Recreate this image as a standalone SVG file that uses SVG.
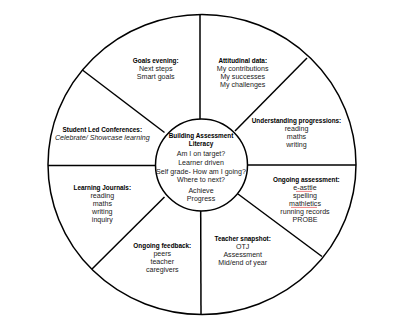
<svg xmlns="http://www.w3.org/2000/svg" width="400" height="325" viewBox="0 0 400 325">
<style>
text{font-family:"Liberation Sans",Arial,sans-serif;font-size:7.1px;fill:#222;text-anchor:middle}
.h{font-weight:bold;font-size:6.4px;fill:#000}
.i{font-style:italic}
.ln{stroke:#000;stroke-width:1.5;fill:none;stroke-linecap:butt}
.sq{stroke:#e03030;stroke-width:0.6;fill:none}
</style>
<rect width="400" height="325" fill="#fff"/>
<g id="wheel">
<ellipse cx="202" cy="164.5" rx="154" ry="150" class="ln"/>
</g>
<g id="connectors">
<line x1="200" y1="14.5" x2="200" y2="119" class="ln"/>
<line x1="200.7" y1="211" x2="201" y2="314.5" class="ln"/>
<line x1="48" y1="165.5" x2="155" y2="165.5" class="ln"/>
<line x1="248" y1="165" x2="356" y2="165" class="ln"/>
<line x1="82.4" y1="70" x2="164.5" y2="132.5" class="ln"/>
<line x1="235" y1="131" x2="307" y2="58" class="ln"/>
<line x1="164.5" y1="197" x2="92" y2="269" class="ln"/>
<line x1="238" y1="194" x2="322" y2="256.5" class="ln"/>
</g>
<g id="center">
<circle cx="201.5" cy="165" r="46" class="ln" fill="#fff"/>
<text x="201" y="138.3" class="h">Building Assessment</text>
<text x="201" y="146.3" class="h">Literacy</text>
<text x="201" y="155.6">Am I on target?</text>
<text x="201" y="165">Learner driven</text>
<text x="201" y="173.6">Self grade- How am I going?</text>
<text x="201" y="181.6">Where to next?</text>
<text x="201" y="193">Achieve</text>
<text x="201" y="201">Progress</text>
</g>
<g id="goals-evening">
<text x="155.7" y="63" class="h">Goals evening:</text>
<text x="155.7" y="70.8">Next steps</text>
<text x="155.7" y="78.6">Smart goals</text>
</g>
<g id="attitudinal-data">
<text x="242.7" y="63" class="h">Attitudinal data:</text>
<text x="242.7" y="71">My contributions</text>
<text x="242.7" y="79">My successes</text>
<text x="242.7" y="87">My challenges</text>
</g>
<g id="understanding-progressions">
<text x="296.5" y="123" class="h">Understanding progressions:</text>
<text x="296.5" y="130.6">reading</text>
<text x="296.5" y="138.6">maths</text>
<text x="296.5" y="146.6">writing</text>
</g>
<g id="student-led-conferences">
<text x="102.3" y="132.3" class="h">Student Led Conferences:</text>
<text x="102.3" y="140.3" class="i">Celebrate/ Showcase learning</text>
</g>
<g id="ongoing-assessment">
<text x="306.3" y="181.6" class="h">Ongoing assessment:</text>
<text x="305" y="189.6">e-asttle</text>
<text x="305" y="197.6">spelling</text>
<text x="305" y="205.6">mathletics</text>
<text x="305" y="213.6">running records</text>
<text x="305" y="221.6">PROBE</text>
<path class="sq" d="M296 191 l1 0.8 l1 -0.8 l1 0.8 l1 -0.8 l1 0.8 l1 -0.8 l1 0.8 l1 -0.8 l1 0.8 l1 -0.8 l1 0.8 l1 -0.8 l1 0.8 l1 -0.8 l1 0.8 l1 -0.8"/>
<path class="sq" d="M291 207 l1 0.8 l1 -0.8 l1 0.8 l1 -0.8 l1 0.8 l1 -0.8 l1 0.8 l1 -0.8 l1 0.8 l1 -0.8 l1 0.8 l1 -0.8 l1 0.8 l1 -0.8 l1 0.8 l1 -0.8 l1 0.8 l1 -0.8 l1 0.8 l1 -0.8 l1 0.8 l1 -0.8 l1 0.8 l1 -0.8 l1 0.8 l1 -0.8"/>
</g>
<g id="learning-journals">
<text x="102.3" y="190.3" class="h">Learning Journals:</text>
<text x="102.3" y="198.3">reading</text>
<text x="102.3" y="206.3">maths</text>
<text x="102.3" y="214.3">writing</text>
<text x="102.3" y="222.3">inquiry</text>
</g>
<g id="ongoing-feedback">
<text x="162.3" y="248" class="h">Ongoing feedback:</text>
<text x="162.3" y="256">peers</text>
<text x="162.3" y="264">teacher</text>
<text x="162.3" y="272">caregivers</text>
</g>
<g id="teacher-snapshot">
<text x="242.7" y="241.3" class="h">Teacher snapshot:</text>
<text x="242.7" y="249.3">OTJ</text>
<text x="242.7" y="257.3">Assessment</text>
<text x="242.7" y="265.3">Mid/end of year</text>
</g>
</svg>
